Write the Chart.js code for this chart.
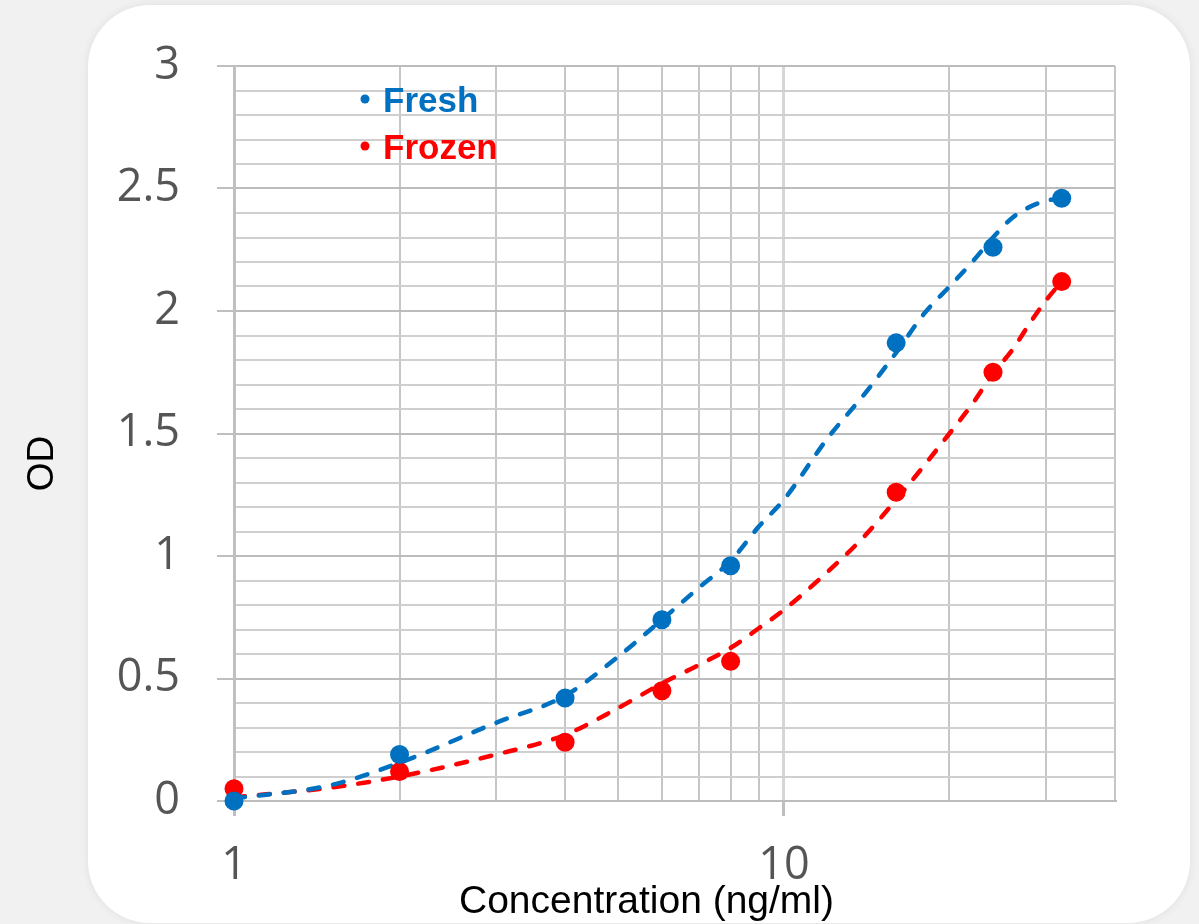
<!DOCTYPE html>
<html>
<head>
<meta charset="utf-8">
<script src="https://cdn.jsdelivr.net/npm/chart.js@4.4.0/dist/chart.umd.min.js"></script>
<style>
html,body{margin:0;padding:0;background:#f1f1f1;width:1199px;height:924px;overflow:hidden;}
#card{position:absolute;left:88px;top:5px;width:1102px;height:918px;background:#fff;border-radius:62px;box-shadow:0 0 10px rgba(0,0,0,0.08);}
#wrap{position:absolute;left:0;top:0;width:1199px;height:924px;}
</style>
</head>
<body>
<div id="card"></div>
<div id="wrap"><canvas id="c" width="1199" height="924"></canvas></div>
<script>
// ---- data ----
const concentrations = [1, 2, 4, 6, 8, 16, 24, 32];
const freshOD  = [0.00, 0.19, 0.42, 0.74, 0.96, 1.87, 2.26, 2.46];
const frozenOD = [0.05, 0.12, 0.24, 0.45, 0.57, 1.26, 1.75, 2.12];

// dashed trend curves
const trendX      = [1, 1.5, 2, 3, 4, 5, 6, 7, 8, 9, 10, 12, 14, 16, 18, 20, 22, 24, 26, 28, 30, 32];
const freshTrend  = [0.01, 0.065, 0.156, 0.32, 0.43, 0.59, 0.74, 0.87, 0.98, 1.12, 1.23, 1.48, 1.66, 1.83, 1.99, 2.10, 2.20, 2.30, 2.38, 2.425, 2.45, 2.46];
const frozenTrend = [0.015, 0.055, 0.10, 0.19, 0.27, 0.38, 0.48, 0.555, 0.625, 0.705, 0.78, 0.935, 1.08, 1.23, 1.37, 1.50, 1.62, 1.745, 1.84, 1.95, 2.045, 2.12];

// axes
const xGridValues = [1, 2, 3, 4, 5, 6, 7, 8, 9, 10, 20, 30, 40];
const xTickValues = [1, 10];
const xTickLabels = ['1', '10'];
const yGridValues = [0,0.1,0.2,0.3,0.4,0.5,0.6,0.7,0.8,0.9,1,1.1,1.2,1.3,1.4,1.5,1.6,1.7,1.8,1.9,2,2.1,2.2,2.3,2.4,2.5,2.6,2.7,2.8,2.9,3];
const yTickValues = [0, 0.5, 1, 1.5, 2, 2.5, 3];
const yTickLabels = ['0', '0.5', '1', '1.5', '2', '2.5', '3'];

const seriesNames = ['Fresh', 'Frozen'];
const seriesColors = ['#0070C0', '#FF0000'];
const xTitle = 'Concentration (ng/ml)';
const yTitle = 'OD';

// ---- helpers ----
const pts = (xs, ys) => xs.map((x, i) => ({x: x, y: ys[i]}));
const findIdx = (arr, v) => arr.findIndex(a => Math.abs(a - v) < 1e-6);

const overlay = {
  id: 'overlay',
  afterDraw(chart) {
    const ctx = chart.ctx;
    const a = chart.chartArea;
    ctx.save();
    // legend
    seriesNames.forEach((name, i) => {
      const cy = a.top + 33 + i * 47;
      ctx.fillStyle = seriesColors[i];
      ctx.beginPath();
      ctx.arc(a.left + 131, cy, 4.5, 0, Math.PI * 2);
      ctx.fill();
      ctx.font = 'bold 35px "Liberation Sans", Arial, sans-serif';
      ctx.textAlign = 'left';
      ctx.textBaseline = 'alphabetic';
      ctx.fillText(name, a.left + 149, cy + 12.5);
    });
    // axis titles
    ctx.fillStyle = '#000';
    ctx.font = '39px "Liberation Sans", Arial, sans-serif';
    ctx.textAlign = 'center';
    ctx.textBaseline = 'alphabetic';
    ctx.fillText(xTitle, (a.left + a.right) / 2 - 28, chart.height - 11);
    ctx.translate(53, (a.top + a.bottom) / 2 + 30);
    ctx.rotate(-Math.PI / 2);
    ctx.font = '37px "Liberation Sans", Arial, sans-serif';
    ctx.fillText(yTitle, 0, 0);
    ctx.restore();
  }
};

new Chart(document.getElementById('c'), {
  data: {
    datasets: [
      {type: 'scatter', label: seriesNames[0], data: pts(concentrations, freshOD),
       backgroundColor: seriesColors[0], borderWidth: 0, pointRadius: 9.5, clip: false, order: 1},
      {type: 'scatter', label: seriesNames[1], data: pts(concentrations, frozenOD),
       backgroundColor: seriesColors[1], borderWidth: 0, pointRadius: 9.5, clip: false, order: 1},
      {type: 'line', label: seriesNames[0] + ' trend', data: pts(trendX, freshTrend),
       borderColor: seriesColors[0], borderWidth: 4.5, borderDash: [11, 14], borderCapStyle: 'round',
       pointRadius: 0, fill: false, cubicInterpolationMode: 'monotone', clip: false, order: 2},
      {type: 'line', label: seriesNames[1] + ' trend', data: pts(trendX, frozenTrend),
       borderColor: seriesColors[1], borderWidth: 4.5, borderDash: [11, 14], borderCapStyle: 'round',
       pointRadius: 0, fill: false, cubicInterpolationMode: 'monotone', clip: false, order: 2}
    ]
  },
  options: {
    responsive: false,
    animation: false,
    devicePixelRatio: 1,
    layout: {padding: {top: 66, right: 84, bottom: 0, left: 0}},
    plugins: {legend: {display: false}, tooltip: {enabled: false}, title: {display: false}},
    scales: {
      x: {
        type: 'logarithmic', min: 1, max: 40,
        afterBuildTicks: s => { s.ticks = xGridValues.map(v => ({value: v})); },
        afterFit: s => { s.height = 123; },
        ticks: {
          autoSkip: false, maxRotation: 0, minRotation: 0, padding: 23,
          color: '#555555', font: {family: '"Open Sans", sans-serif', size: 45, weight: '500'},
          callback: v => { const i = findIdx(xTickValues, v); return i >= 0 ? xTickLabels[i] : ''; }
        },
        grid: {
          color: c => (c.tick && findIdx(xTickValues, c.tick.value) >= 0) ? '#d6d6d6' : '#c6c6c6',
          lineWidth: c => (c.tick && findIdx(xTickValues, c.tick.value) >= 0) ? 3 : 2,
          tickColor: c => (c.tick && findIdx(xTickValues, c.tick.value) >= 0) ? '#bfbfbf' : 'rgba(0,0,0,0)',
          tickLength: 15, drawTicks: true
        },
        border: {display: true, color: '#bdbdbd', width: 2}
      },
      y: {
        type: 'linear', min: 0, max: 3,
        afterBuildTicks: s => { s.ticks = yGridValues.map(v => ({value: v})); },
        afterFit: s => { s.width = 234; },
        ticks: {
          autoSkip: false, padding: 37,
          color: '#555555', font: {family: '"Open Sans", sans-serif', size: 45, weight: '500'},
          callback: v => { const i = findIdx(yTickValues, v); return i >= 0 ? yTickLabels[i] : ''; }
        },
        grid: {
          color: c => (c.tick && findIdx(yTickValues, c.tick.value) >= 0) ? '#bcbcbc' : '#cfcfcf',
          lineWidth: 2,
          tickColor: c => (c.tick && findIdx(yTickValues, c.tick.value) >= 0) ? '#bfbfbf' : 'rgba(0,0,0,0)',
          tickLength: 17, drawTicks: true
        },
        border: {display: true, color: '#c0c0c0', width: 3}
      }
    }
  },
  plugins: [overlay]
});
</script>
</body>
</html>
